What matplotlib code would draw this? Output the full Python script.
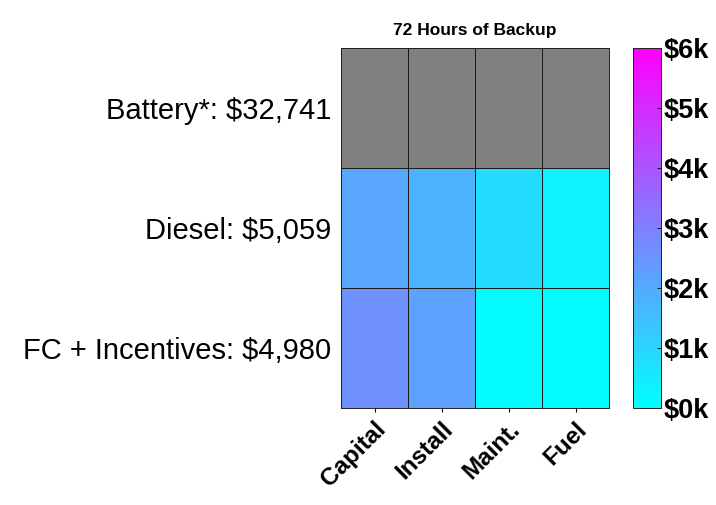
import numpy as np
import matplotlib
matplotlib.use("Agg")
import matplotlib.pyplot as plt
from matplotlib.colors import Normalize

rows = ["Battery*: $32,741", "Diesel: $5,059", "FC + Incentives: $4,980"]
cols = ["Capital", "Install", "Maint.", "Fuel"]
battery = [np.nan, np.nan, np.nan, np.nan]
diesel = [2100, 1800, 820, 339]
fc = [2600, 2200, 100, 80]
cbar_ticks = [0, 1000, 2000, 3000, 4000, 5000, 6000]
cbar_labels = ["$0k", "$1k", "$2k", "$3k", "$4k", "$5k", "$6k"]
title = "72 Hours of Backup"

FAM = ["Liberation Sans Narrow", "Liberation Sans", "DejaVu Sans"]
plt.rcParams["font.family"] = FAM

data = np.ma.masked_invalid(np.array([battery, diesel, fc], dtype=float))

fig = plt.figure(figsize=(7.16, 5.05), dpi=100)
ax = fig.add_axes([0.4763, 0.1921, 0.3743, 0.7129])
cax = fig.add_axes([0.8841, 0.1921, 0.0391, 0.7129])

cmap = plt.get_cmap("cool").copy()
cmap.set_bad("#808080")
norm = Normalize(vmin=0, vmax=6000)

mesh = ax.pcolormesh(np.arange(len(cols) + 1), np.arange(len(rows) + 1), data,
                     cmap=cmap, norm=norm, edgecolors="#1a1a1a", linewidth=0.6)
ax.set_xlim(0, len(cols))
ax.set_ylim(len(rows), 0)
ax.set_xticks(np.arange(len(cols)) + 0.5)
ax.set_xticklabels(cols, rotation=45, ha="right", rotation_mode="anchor",
                   fontsize=17.5, fontweight="bold")
ax.set_yticks(np.arange(len(rows)) + 0.5)
ax.set_yticklabels(rows, fontsize=21)
ax.tick_params(axis="y", length=0, pad=7)
ax.tick_params(axis="x", length=3, width=0.8, pad=4, direction="out")
for s in ax.spines.values():
    s.set_color("#222222")
    s.set_linewidth(0.7)
ax.set_title(title, fontsize=12.5, fontweight="bold", pad=9)

cb = fig.colorbar(mesh, cax=cax)
cb.set_ticks(cbar_ticks)
cb.set_ticklabels(cbar_labels)
cb.outline.set_edgecolor("#222222")
cb.outline.set_linewidth(0.7)
cax.tick_params(axis="y", length=3, width=0.6, direction="in", pad=2,
                labelsize=19.5)
for lbl in cax.get_yticklabels():
    lbl.set_fontweight("bold")

fig.savefig("out.png", dpi=100, facecolor="white")
